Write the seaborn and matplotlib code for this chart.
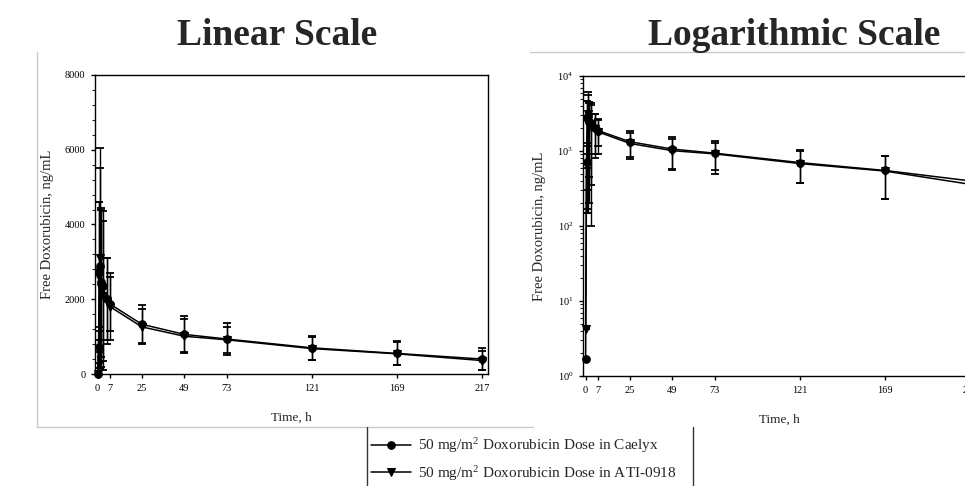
import numpy as np
import pandas as pd
import matplotlib
matplotlib.use("Agg")
import matplotlib.pyplot as plt
import seaborn as sns
from matplotlib.lines import Line2D
from matplotlib.ticker import FixedLocator, FixedFormatter, LogLocator, NullFormatter, MultipleLocator

# ---------------- data ----------------
time_h = [0, 0.5, 1, 1.5, 2, 3, 5, 7, 25, 49, 73, 121, 169, 217]
caelyx_mean = [1.7, 720, 2750, 2900, 2450, 2350, 2000, 1870, 1330, 1060, 935, 700, 550, 400]
caelyx_sd = [0, 550, 1850, 2600, 2000, 2000, 1100, 720, 510, 480, 440, 330, 320, 290]
ati_mean = [4.2, 650, 2600, 3100, 2300, 2100, 1950, 1800, 1260, 1010, 915, 680, 540, 360]
ati_sd = [0, 500, 2000, 2950, 2100, 2000, 1150, 900, 470, 450, 350, 310, 310, 250]

series_labels = [r"50 mg/m$^{2}$ Doxorubicin Dose in Caelyx",
                 r"50 mg/m$^{2}$ Doxorubicin Dose in ATI-0918"]
series_markers = ["o", "v"]

x_ticks = [0, 7, 25, 49, 73, 121, 169, 217]
lin_y_ticks = [0, 2000, 4000, 6000, 8000]
log_y_ticks = [1, 10, 100, 1000, 10000]
log_y_labels = [r"$10^{0}$", r"$10^{1}$", r"$10^{2}$", r"$10^{3}$", r"$10^{4}$"]
panel_titles = ["Linear Scale", "Logarithmic Scale"]
y_label = "Free Doxorubicin, ng/mL"
x_label = "Time, h"

df = pd.concat([
    pd.DataFrame({"time": time_h, "conc": caelyx_mean, "sd": caelyx_sd, "group": series_labels[0]}),
    pd.DataFrame({"time": time_h, "conc": ati_mean, "sd": ati_sd, "group": series_labels[1]}),
], ignore_index=True)

# ---------------- style ----------------
sns.set_theme(style="ticks")
plt.rcParams["font.family"] = ["Liberation Serif", "DejaVu Serif"]
plt.rcParams["mathtext.fontset"] = "custom"
plt.rcParams["mathtext.rm"] = "Liberation Serif"
plt.rcParams["mathtext.it"] = "Liberation Serif:italic"
plt.rcParams["mathtext.bf"] = "Liberation Serif:bold"

W, H = 965, 486
fig = plt.figure(figsize=(W / 100, H / 100), dpi=100)
fig.patch.set_facecolor("white")

def fx(px):
    return px / W

def fy(py):
    return 1 - py / H

ax_lin = fig.add_axes([fx(95), fy(374), fx(488) - fx(95), fy(75) - fy(374)])
ax_log = fig.add_axes([fx(583), fy(376), fx(976) - fx(583), fy(76) - fy(376)])

for ax, logscale in ((ax_lin, False), (ax_log, True)):
    if logscale:
        ax.set_yscale("log")
    for i, lab in enumerate(series_labels):
        sub = df[df["group"] == lab]
        ax.errorbar(sub["time"], sub["conc"], yerr=sub["sd"], fmt="none",
                    ecolor="black", elinewidth=1.0, capsize=3, capthick=1.3, zorder=2)
    sns.lineplot(data=df, x="time", y="conc", hue="group", style="group",
                 hue_order=series_labels, style_order=series_labels,
                 palette=["black", "black"], markers=series_markers, dashes=False,
                 markersize=5.5, markeredgecolor="black", linewidth=1.1,
                 errorbar=None, sort=True, ax=ax, zorder=3, clip_on=False)
    ax.set_xlim(-1.5, 220.4)
    ax.xaxis.set_major_locator(FixedLocator(x_ticks))
    ax.set_xticklabels([str(t) for t in x_ticks])
    ax.set_xlabel(x_label, fontsize=9.5, labelpad=14)
    ax.set_ylabel(y_label, fontsize=10.5, labelpad=8)
    ax.tick_params(axis="both", which="major", direction="out", length=3, width=1,
                   labelsize=7.5, colors="black", pad=4)
    ax.tick_params(axis="y", which="minor", direction="out", length=2, width=0.8)
    for s in ax.spines.values():
        s.set_linewidth(1.0)
        s.set_color("black")
    if ax.get_legend() is not None:
        handles, labels = ax.get_legend_handles_labels()
        ax.get_legend().remove()

ax_lin.set_ylim(0, 8000)
ax_lin.yaxis.set_major_locator(FixedLocator(lin_y_ticks))
ax_lin.set_yticklabels([str(v) for v in lin_y_ticks])
ax_lin.yaxis.set_minor_locator(MultipleLocator(400))

ax_log.set_ylim(1, 10000)
ax_log.yaxis.set_major_locator(FixedLocator(log_y_ticks))
ax_log.yaxis.set_major_formatter(FixedFormatter(log_y_labels))
ax_log.yaxis.set_minor_locator(LogLocator(base=10, subs=np.arange(2, 10)))
ax_log.yaxis.set_minor_formatter(NullFormatter())

# titles
fig.text(fx(277), fy(45), panel_titles[0], ha="center", va="baseline",
         fontsize=27, fontweight="bold")
fig.text(fx(794), fy(45), panel_titles[1], ha="center", va="baseline",
         fontsize=27, fontweight="bold")

# legend
leg = fig.legend(handles, labels, loc="center left",
                 bbox_to_anchor=(fx(371), fy(459.5)), frameon=False,
                 fontsize=11, handlelength=2.6, handletextpad=0.5,
                 labelspacing=0.55, borderpad=0, borderaxespad=0)

# frame fragments of the composed figure
gray = "#c8c8c8"
fig.add_artist(Line2D([fx(37), fx(37)], [fy(52), fy(427)], color=gray, lw=1.0))
fig.add_artist(Line2D([fx(37), fx(533)], [fy(427), fy(427)], color=gray, lw=1.0))
fig.add_artist(Line2D([fx(530), fx(965)], [fy(52), fy(52)], color=gray, lw=1.0))
fig.add_artist(Line2D([fx(367), fx(367)], [fy(427), fy(486)], color="#333333", lw=1.0))
fig.add_artist(Line2D([fx(693), fx(693)], [fy(427), fy(486)], color="#333333", lw=1.0))

fig.savefig("out.png", dpi=100, facecolor="white")
